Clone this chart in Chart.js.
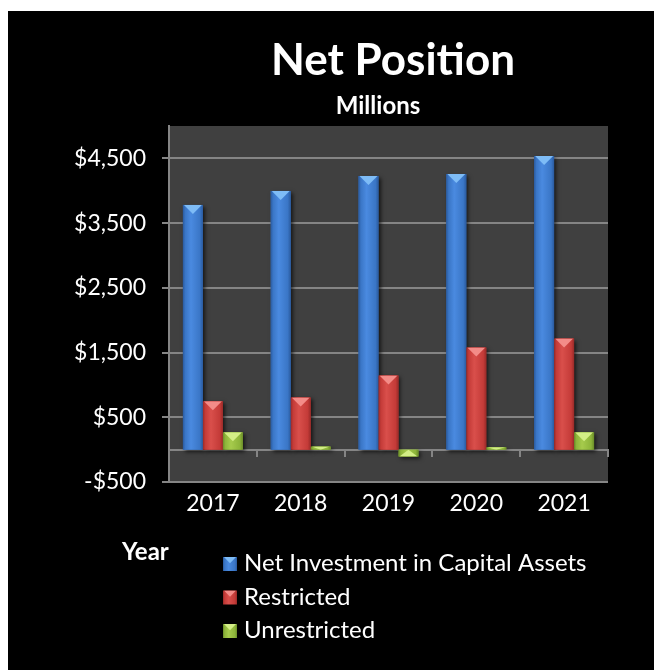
<!DOCTYPE html>
<html>
<head>
<meta charset="utf-8">
<title>Net Position</title>
<script src="https://cdn.jsdelivr.net/npm/chart.js@4.4.1/dist/chart.umd.min.js"></script>
<style>
  html, body { margin: 0; padding: 0; background: #ffffff; }
  #frame { position: absolute; left: 8px; top: 11px; width: 646px; height: 659px; background: #000000; }
  canvas { display: block; }
</style>
</head>
<body>
<div id="frame"><canvas id="netPosition" width="646" height="659"></canvas></div>
<script>
// Net position by fiscal year, in millions of dollars
const years = ['2017', '2018', '2019', '2020', '2021'];
const netInvestment = [3781, 3997, 4228, 4259, 4536];
const restricted = [746, 807, 1146, 1578, 1716];
const unrestricted = [268, 48, -106, 37, 268];
const yTicks = [-500, 500, 1500, 2500, 3500, 4500];
const seriesNames = ['Net Investment in Capital Assets', 'Restricted', 'Unrestricted'];
const chartTitle = 'Net Position';
const chartSubtitle = 'Millions';
const axisTitle = 'Year';

// Bar palettes: base fill, dark edge, light centre, bevel highlight
const palettes = [
  { base: '#3a76c6', edge: '#2a5a9e', mid: '#4a8ae0', bevel: '#7ebcf6' },
  { base: '#c43b38', edge: '#992a28', mid: '#d94f4b', bevel: '#f38c88' },
  { base: '#8db43a', edge: '#6a8c28', mid: '#a6cb4c', bevel: '#d3ee86' }
];

const FONT = 'Lato, "Open Sans", sans-serif';
const GRID = '#858585';

function fmtMoney(v) {
  return (v < 0 ? '-$' : '$') + Math.abs(v).toLocaleString('en-US');
}

// Shading and bevel for a bar-shaped rectangle
function shadeBar(ctx, left, top, w, h, pal, capAtTop) {
  if (h <= 0 || w <= 0) return;
  const g = ctx.createLinearGradient(left, 0, left + w, 0);
  g.addColorStop(0, pal.edge);
  g.addColorStop(0.12, pal.base);
  g.addColorStop(0.4, pal.mid);
  g.addColorStop(0.85, pal.base);
  g.addColorStop(1, pal.edge);
  ctx.fillStyle = g;
  ctx.fillRect(left, top, w, h);
  const d = Math.min(w * 0.45, h);
  ctx.save();
  ctx.beginPath();
  ctx.rect(left, top, w, h);
  ctx.clip();
  ctx.fillStyle = pal.bevel;
  ctx.beginPath();
  if (capAtTop) {
    ctx.moveTo(left + 1, top);
    ctx.lineTo(left + w - 1, top);
    ctx.lineTo(left + w / 2, top + d);
  } else {
    ctx.moveTo(left + 1, top + h);
    ctx.lineTo(left + w - 1, top + h);
    ctx.lineTo(left + w / 2, top + h - d);
  }
  ctx.closePath();
  ctx.fill();
  ctx.restore();
}

const decor = {
  id: 'decor',
  beforeDraw(chart) {
    const { ctx, chartArea: a } = chart;
    ctx.save();
    ctx.fillStyle = '#404040';
    ctx.fillRect(a.left, a.top, a.right - a.left, a.bottom - a.top);
    ctx.restore();
  },
  beforeDatasetsDraw(chart) {
    const ctx = chart.ctx;
    ctx.save();
    ctx.shadowColor = 'rgba(0,0,0,0.65)';
    ctx.shadowBlur = 4;
    ctx.shadowOffsetX = 2;
    ctx.shadowOffsetY = 2;
  },
  afterDatasetsDraw(chart) {
    const ctx = chart.ctx;
    ctx.restore();
    chart.data.datasets.forEach((ds, i) => {
      const meta = chart.getDatasetMeta(i);
      const pal = palettes[i];
      meta.data.forEach((bar, j) => {
        const p = bar.getProps(['x', 'y', 'base', 'width'], true);
        const left = p.x - p.width / 2;
        const top = Math.min(p.y, p.base);
        const h = Math.abs(p.base - p.y);
        shadeBar(ctx, left, top, p.width, h, pal, ds.data[j] >= 0);
      });
    });
  },
  afterDraw(chart) {
    const ctx = chart.ctx;
    ctx.save();
    ctx.fillStyle = '#ffffff';
    ctx.textBaseline = 'alphabetic';

    ctx.textAlign = 'center';
    ctx.font = 'bold 44px ' + FONT;
    ctx.fillText(chartTitle, 385, 64);
    ctx.font = 'bold 24px ' + FONT;
    ctx.fillText(chartSubtitle, 370, 103);

    ctx.textAlign = 'left';
    ctx.font = 'bold 24px ' + FONT;
    ctx.fillText(axisTitle, 114, 549);

    // Legend: one entry per line
    ctx.font = '24px ' + FONT;
    chart.data.datasets.forEach((ds, i) => {
      const y = 546 + i * 33.5;
      shadeBar(ctx, 215, y, 14, 14, palettes[i], true);
      ctx.fillStyle = '#ffffff';
      ctx.fillText(ds.label, 236, y + 14);
    });
    ctx.restore();
  }
};

new Chart(document.getElementById('netPosition'), {
  type: 'bar',
  data: {
    labels: years,
    datasets: [
      { label: seriesNames[0], data: netInvestment, backgroundColor: palettes[0].base },
      { label: seriesNames[1], data: restricted, backgroundColor: palettes[1].base },
      { label: seriesNames[2], data: unrestricted, backgroundColor: palettes[2].base }
    ]
  },
  options: {
    responsive: false,
    animation: false,
    devicePixelRatio: 1,
    categoryPercentage: 0.683,
    barPercentage: 1,
    layout: { padding: { left: 0, right: 46, top: 115, bottom: 148 } },
    plugins: {
      legend: { display: false },
      title: { display: false },
      tooltip: { enabled: false }
    },
    scales: {
      x: {
        type: 'category',
        position: 'bottom',
        offset: true,
        grid: { display: false, offset: true },
        border: { display: false },
        ticks: { color: '#ffffff', font: { family: FONT, size: 23 }, padding: 0 },
        afterFit(axis) { axis.height = 40; }
      },
      xZero: {
        type: 'category',
        axis: 'x',
        position: { y: 0 },
        offset: true,
        grid: { display: true, offset: true, drawOnChartArea: false, drawTicks: true, tickLength: 6, color: GRID, lineWidth: 2 },
        border: { display: true, color: GRID, width: 2 },
        ticks: { display: false }
      },
      y: {
        min: -500,
        max: 5000,
        afterBuildTicks(axis) { axis.ticks = yTicks.map(v => ({ value: v })); },
        grid: { color: GRID, lineWidth: 2, tickLength: 7 },
        border: { display: true, color: GRID, width: 2 },
        ticks: {
          color: '#ffffff',
          font: { family: FONT, size: 23 },
          padding: 16,
          callback: v => fmtMoney(v)
        },
        afterFit(axis) { axis.width = 161; }
      }
    }
  },
  plugins: [decor]
});
</script>
</body>
</html>
